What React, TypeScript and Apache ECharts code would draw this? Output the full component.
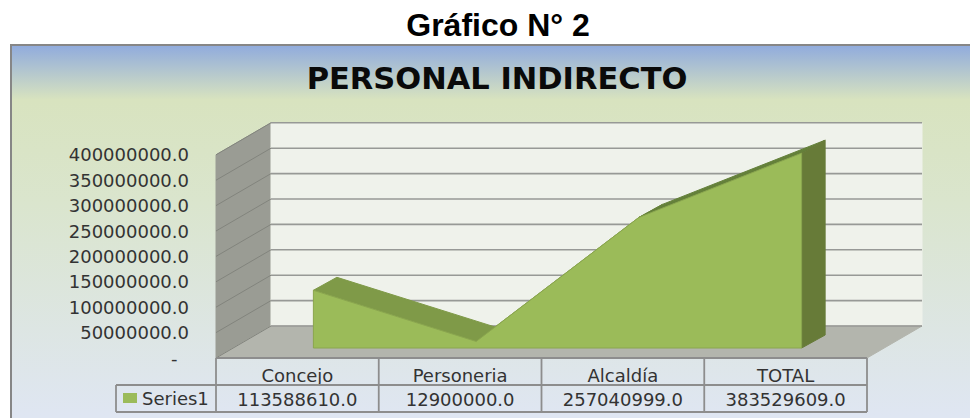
import React, { useEffect, useRef } from "react";
import * as echarts from "echarts";

const categories = ["Concejo", "Personeria", "Alcaldía", "TOTAL"];
const seriesName = "Series1";
const seriesValues = [113588610, 12900000, 257040999, 383529609];
const yTicks = [0, 50000000, 100000000, 150000000, 200000000, 250000000, 300000000, 350000000, 400000000];
const axisMax = 400000000;
const axisStep = 50000000;

const gridLeft = 216;
const gridRight = 103;
const gridTop = 154.8;
const gridBottom = 60;
const wallDepth: [number, number] = [55, -32];
const planeFront: [number, number] = [16, -10];
const planeBack: [number, number] = [39.5, -23];
const rowH = 27;

const fmt = (v: number) => v.toFixed(1);
const line = "#8d8d8d";

function poly(points: number[][], fill: string, stroke?: string) {
  return {
    type: "polygon",
    shape: { points },
    style: { fill, stroke: stroke || fill, lineWidth: 1 },
  };
}

export default function App() {
  const ref = useRef<HTMLDivElement>(null);
  useEffect(() => {
    const chart = echarts.init(ref.current!, null, { renderer: "svg" });
    const shift = (p: number[], o: number[]) => [p[0] + o[0], p[1] + o[1]];
    chart.setOption({
      animation: false,
      textStyle: { fontFamily: "DejaVu Sans" },
      title: [
        {
          text: "Gráfico N° 2",
          left: 498,
          textAlign: "center",
          top: 9,
          padding: 0,
          textStyle: { fontFamily: "Liberation Sans", fontWeight: "bold", fontSize: 32, color: "#000" },
        },
        {
          text: "PERSONAL INDIRECTO",
          left: 497,
          textAlign: "center",
          top: 63,
          padding: 0,
          textStyle: { fontFamily: "DejaVu Sans", fontWeight: "bold", fontSize: 30.5, color: "#0a0a0a" },
        },
      ],
      graphic: [
        {
          type: "rect",
          z: -10,
          shape: { x: 11, y: 45, width: 975, height: 390 },
          style: {
            stroke: "#868686",
            lineWidth: 2,
            fill: new echarts.graphic.LinearGradient(0, 0, 0, 1, [
              { offset: 0, color: "#90abdd" },
              { offset: 0.14, color: "#d8e3bf" },
              { offset: 0.4, color: "#dae5cd" },
              { offset: 0.95, color: "#dfe6f2" },
            ]),
          },
        },
      ],
      legend: {
        data: [seriesName],
        left: 123,
        top: 389,
        padding: 0,
        icon: "rect",
        itemWidth: 14,
        itemHeight: 10,
        selectedMode: false,
        textStyle: { fontFamily: "DejaVu Sans", fontSize: 18, color: "#333" },
      },
      grid: { left: gridLeft, right: gridRight, top: gridTop, bottom: gridBottom },
      xAxis: {
        type: "category",
        data: categories,
        axisLine: { show: false },
        axisTick: { show: false },
        axisLabel: {
          margin: 5,
          interval: 0,
          fontSize: 18,
          lineHeight: 24,
          color: "#333",
          fontFamily: "DejaVu Sans",
          formatter: (v: string, i: number) => `${v}\n${fmt(seriesValues[i])}`,
        },
      },
      yAxis: {
        type: "value",
        min: 0,
        max: axisMax,
        interval: axisStep,
        axisLine: { show: false },
        axisTick: { show: false },
        splitLine: { show: false },
        axisLabel: {
          margin: 27,
          fontSize: 18,
          color: "#333",
          fontFamily: "DejaVu Sans",
          formatter: (v: number) => (v === 0 ? "-\u00a0\u00a0" : fmt(v)),
        },
      },
      series: [
        {
          type: "custom",
          name: "walls",
          silent: true,
          z: 1,
          data: [[0, 0]],
          renderItem: (_p: any, api: any) => {
            const band = api.size([1, 0])[0];
            const b0 = api.coord([0, 0]);
            const t0 = api.coord([0, axisMax]);
            const bl = [b0[0] - band / 2, b0[1]];
            const tl = [t0[0] - band / 2, t0[1]];
            const br = [bl[0] + band * categories.length, bl[1]];
            const tr = [br[0], tl[1]];
            return {
              type: "group",
              children: [
                poly([bl, tl, shift(tl, wallDepth), shift(bl, wallDepth)], "#9a9c94"),
                poly([shift(tl, wallDepth), shift(tr, wallDepth), shift(br, wallDepth), shift(bl, wallDepth)], "#eff2eb"),
                poly([bl, shift(bl, wallDepth), shift(br, wallDepth), br], "#b3b5ad"),
              ],
            };
          },
        },
        {
          type: "custom",
          name: "gridlines",
          silent: true,
          z: 2,
          data: yTicks.map((t) => [0, t]),
          renderItem: (_p: any, api: any) => {
            const band = api.size([1, 0])[0];
            const p = api.coord([0, api.value(1)]);
            const l = [p[0] - band / 2, p[1]];
            const r = [l[0] + band * categories.length, l[1]];
            return {
              type: "group",
              children: [
                {
                  type: "line",
                  shape: { x1: l[0], y1: l[1], x2: l[0] + wallDepth[0], y2: l[1] + wallDepth[1] },
                  style: { stroke: "#82847d", lineWidth: 1 },
                },
                {
                  type: "line",
                  shape: { x1: l[0] + wallDepth[0], y1: l[1] + wallDepth[1], x2: r[0] + wallDepth[0], y2: r[1] + wallDepth[1] },
                  style: { stroke: "#979996", lineWidth: 1.6 },
                },
              ],
            };
          },
        },
        {
          type: "custom",
          name: seriesName,
          silent: true,
          z: 3,
          itemStyle: { color: "#9bbb59" },
          data: seriesValues.map((v, i) => [i, v]),
          renderItem: (p: any, api: any) => {
            if (p.dataIndex !== 0) return { type: "group", children: [] };
            const tops = seriesValues.map((v, i) => api.coord([i, v]));
            const bases = seriesValues.map((_v, i) => api.coord([i, 0]));
            const front = (q: number[]) => shift(q, planeFront);
            const back = (q: number[]) => shift(q, planeBack);
            const n = tops.length;
            const children: any[] = [];
            const topColors = ["#7f9a48", "#7f9a48", "#64803a"];
            for (let i = 0; i < n - 1; i++) {
              children.push(
                poly([front(tops[i]), back(tops[i]), back(tops[i + 1]), front(tops[i + 1])], topColors[i])
              );
            }
            children.push(
              poly([front(tops[n - 1]), back(tops[n - 1]), back(bases[n - 1]), front(bases[n - 1])], "#677b38")
            );
            children.push(
              poly(
                [front(bases[0]), ...tops.map(front), front(bases[n - 1])],
                "#9bbb59",
                "#8aa64e"
              )
            );
            return { type: "group", children };
          },
        },
        {
          type: "custom",
          name: "table",
          silent: true,
          z: 4,
          data: [[0, 0]],
          renderItem: (_p: any, api: any) => {
            const band = api.size([1, 0])[0];
            const b0 = api.coord([0, 0]);
            const x0 = b0[0] - band / 2;
            const y0 = b0[1];
            const x1 = x0 + band * categories.length;
            const legendX = x0 - 100;
            const seg = (a: number, b: number, c: number, d: number) => ({
              type: "line",
              shape: { x1: a, y1: b, x2: c, y2: d },
              style: { stroke: line, lineWidth: 1.8 },
            });
            const children: any[] = [
              seg(x0, y0, x1, y0),
              seg(legendX, y0 + rowH, x1, y0 + rowH),
              seg(legendX, y0 + 2 * rowH, x1, y0 + 2 * rowH),
              seg(legendX, y0 + rowH, legendX, y0 + 2 * rowH),
            ];
            for (let i = 0; i <= categories.length; i++) {
              children.push(seg(x0 + band * i, y0, x0 + band * i, y0 + 2 * rowH));
            }
            return { type: "group", children };
          },
        },
      ],
    });
    return () => chart.dispose();
  }, []);
  return (
    <div
      ref={ref}
      style={{ position: "absolute", left: 0, top: 0, width: 970, height: 418, overflow: "hidden", background: "#fff" }}
    />
  );
}
